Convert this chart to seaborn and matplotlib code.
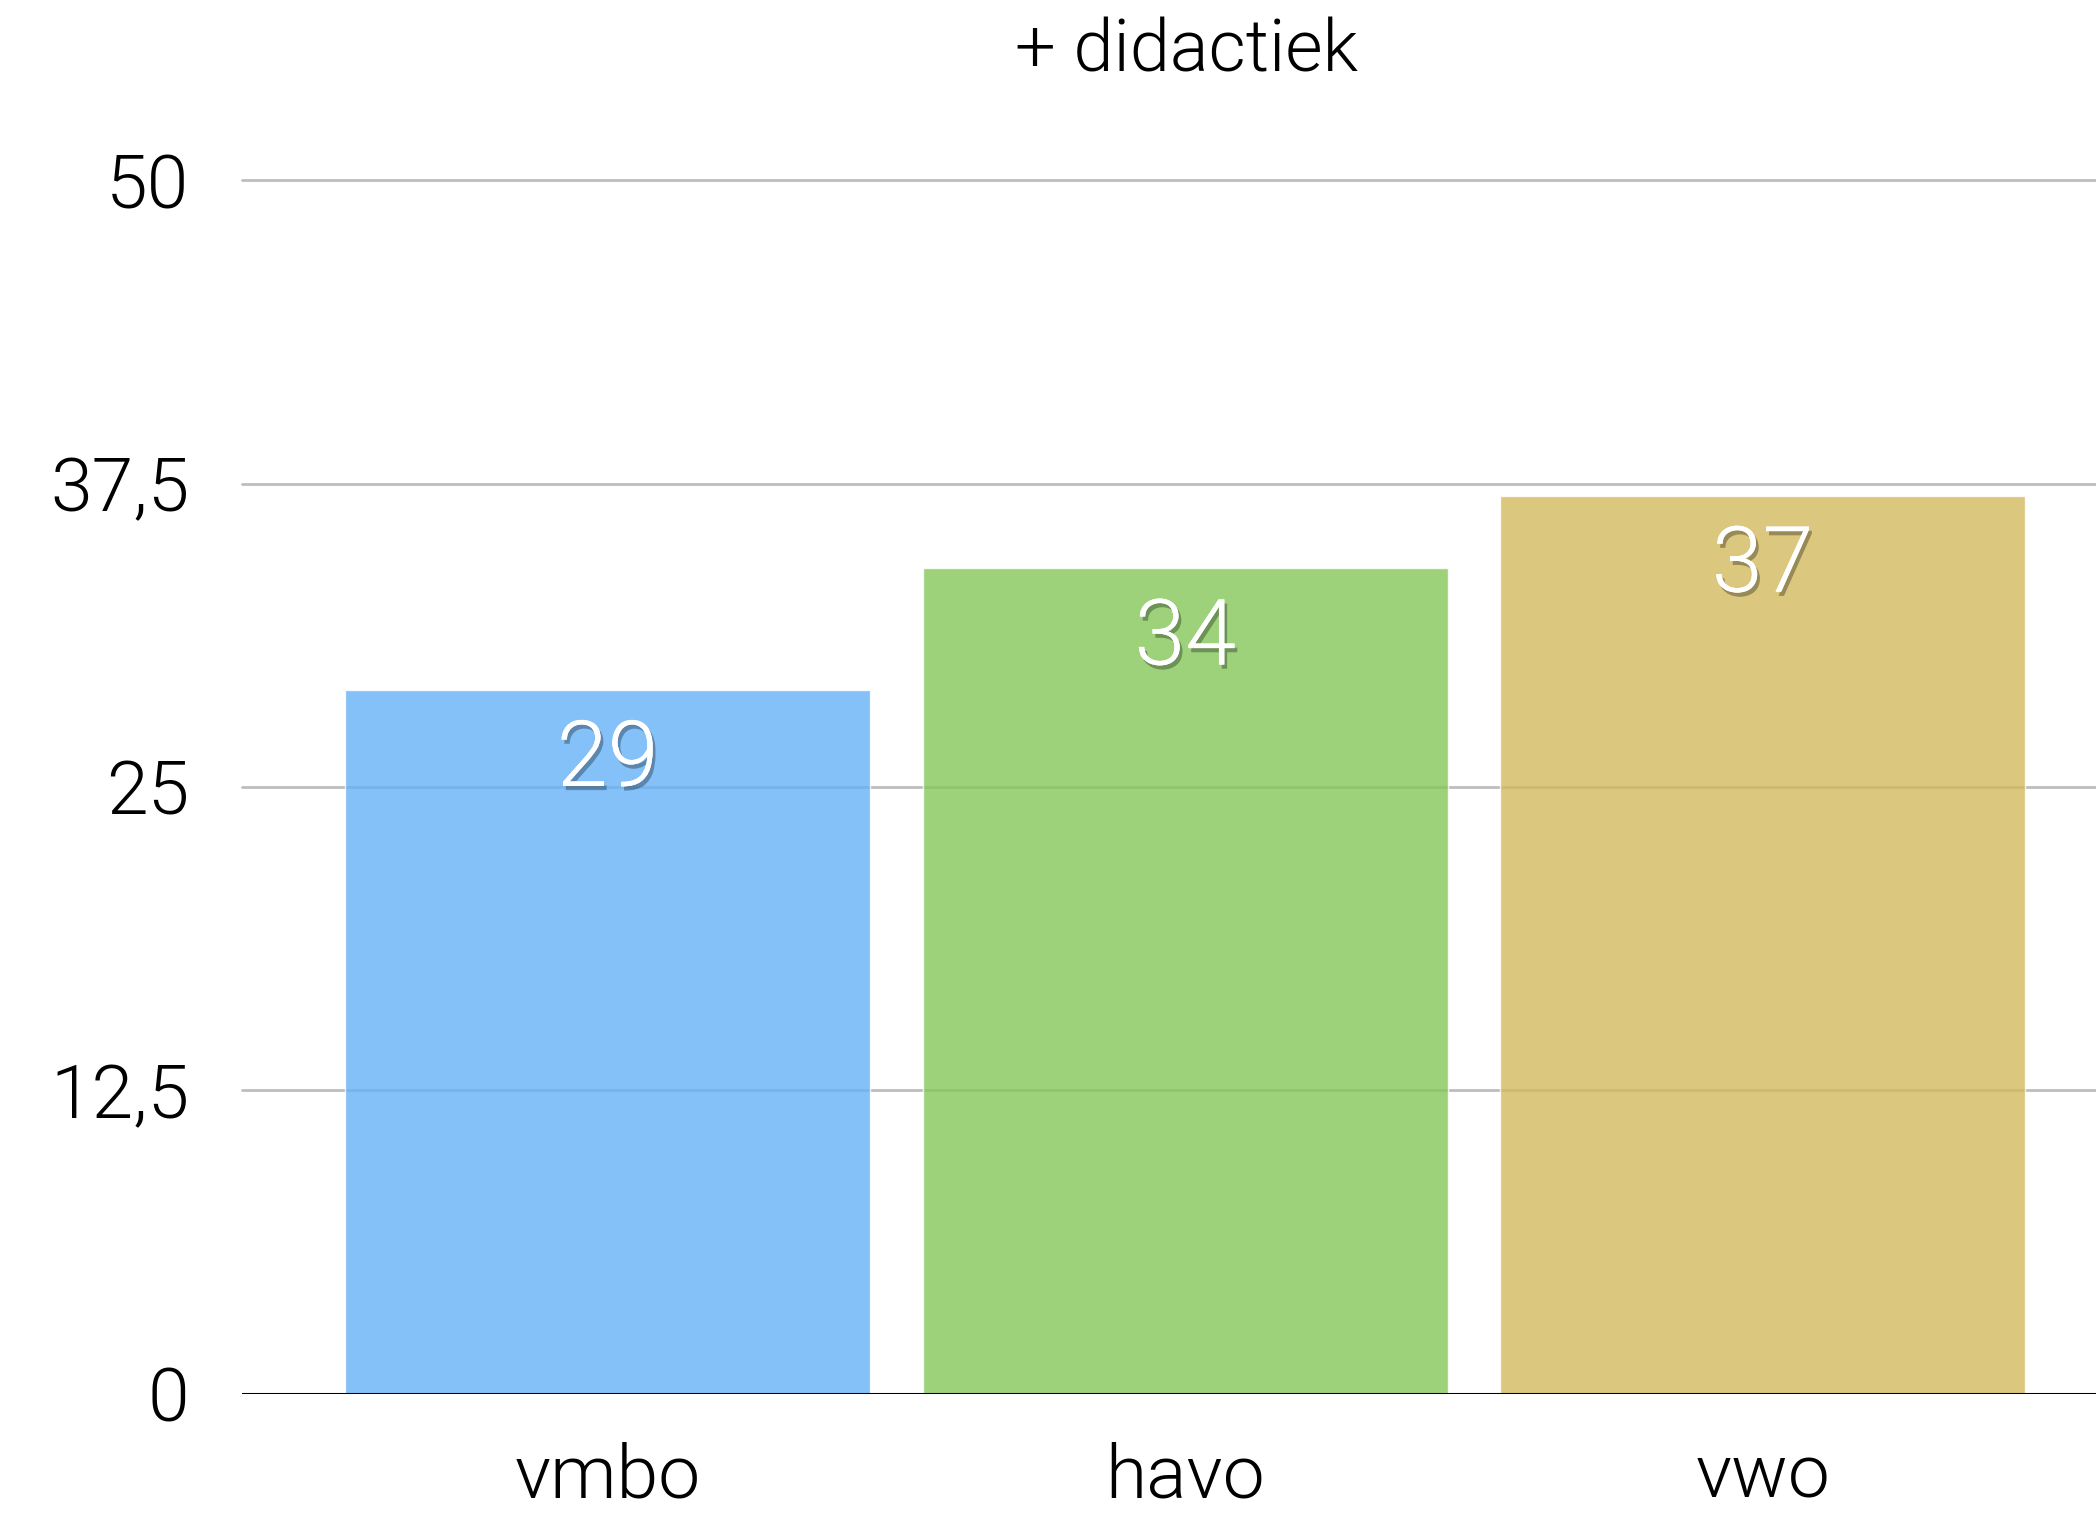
import matplotlib
matplotlib.use("Agg")
import matplotlib.pyplot as plt
import matplotlib.patheffects as pe
import seaborn as sns

# Données
niveaux = ["vmbo", "havo", "vwo"]
scores = [29, 34, 37]
couleurs = ["#65B2F8", "#85C75A", "#D2BA5E"]
yticks = [0, 12.5, 25, 37.5, 50]
ytick_labels = ["0", "12,5", "25", "37,5", "50"]
titre = "+ didactiek"

sns.set_style("white")
plt.rcParams["font.family"] = ["Roboto", "DejaVu Sans"]
poids = 300

fig = plt.figure(figsize=(20.96, 15.13), dpi=100)
ax = fig.add_axes([0.1155, 0.0787, 0.8845, 0.8023])

# 1. Barres
sns.barplot(ax=ax, x=niveaux, y=scores, hue=niveaux, palette=couleurs,
            legend=False, width=0.909, alpha=0.8, saturation=1, zorder=3)

# 2. Lignes horizontales
for t in yticks[1:]:
    ax.axhline(t, color="#BDBDBD", lw=2, zorder=1, clip_on=False)
ax.axhline(0, color="black", lw=2.2, zorder=4)

ax.set_ylim(0, 50)
ax.set_xlim(-0.633, 2.577)
ax.set_yticks(yticks)
ax.set_yticklabels(ytick_labels, fontsize=54, fontweight=poids, color="black")
ax.tick_params(axis="y", length=0, pad=38)
ax.tick_params(axis="x", length=0, pad=34, labelsize=54, labelcolor="black")
for lab in ax.get_xticklabels():
    lab.set_fontweight(poids)
ax.set_xlabel("")
ax.set_ylabel("")
for s in ["top", "right", "left", "bottom"]:
    ax.spines[s].set_visible(False)

# 3. Étiquettes des valeurs
for i, v in enumerate(scores):
    ax.annotate(str(v), xy=(i, v), xytext=(0, -51), textcoords="offset points",
                ha="center", va="center", fontsize=66, color="white",
                fontweight=poids, zorder=5,
                path_effects=[pe.withSimplePatchShadow(offset=(2, -3), shadow_rgbFace="black", alpha=0.3),
                              pe.Normal()])

# 4. Titre
fig.text(0.566, 0.966, titre, ha="center", va="center", fontsize=52,
         fontweight=poids, color="black")

plt.savefig("out.png", dpi=100)
